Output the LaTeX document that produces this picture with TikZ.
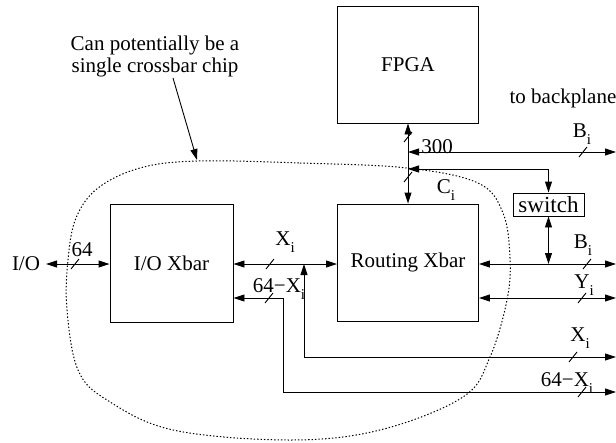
\documentclass[tikz,border=0pt]{standalone}
\usepackage{fontspec}
\setmainfont{Liberation Serif}
\usetikzlibrary{arrows.meta}
\newcommand\isub[1]{\raisebox{-0.35em}{\fontsize{15}{15}\selectfont #1}}
\tikzset{
  blk/.style={draw, line width=0.9pt, inner sep=0pt},
  ln/.style={line width=0.9pt},
  dbl/.style={ln, {Triangle[length=11pt,width=7pt]}-{Triangle[length=11pt,width=7pt]}},
  arr/.style={ln, -{Triangle[length=11pt,width=7pt]}},
  lbl/.style={inner sep=0pt},
  tk/.pic={\draw[line width=0.9pt] (-4pt,-5pt) -- (4pt,5pt);},
  chip/.style={line width=1pt, dash pattern=on 1.4pt off 2pt}
}
\begin{document}
\begin{tikzpicture}[x=1pt,y=-1pt,font=\fontsize{21}{23}\selectfont]
\useasboundingbox (0,0) rectangle (616,442);
% blocks
\node[blk, minimum width=141pt, minimum height=117pt] (fpga) at (408,64.5) {FPGA};
\node[blk, minimum width=141pt, minimum height=117pt] (rx) at (408,262.5) {Routing Xbar};
\node[blk, minimum width=123pt, minimum height=118pt] (iox) at (171.5,263) {I/O Xbar};
\node[blk, minimum width=71pt, minimum height=23pt] (sw) at (548.5,204.5) {\raisebox{-3pt}{\fontsize{23}{23}\selectfont switch}};
% labels
\node[lbl] (io) at (26,264) {I/O};
\node[lbl] (l64) at (82,250) {64};
\node[lbl] (lxa) at (285,242) {X\isub{i}};
\node[lbl] (lmxa) at (279,289) {64−X\isub{i}};
\node[lbl] (l300) at (437,147) {300};
\node[lbl] (lci) at (446,190) {C\isub{i}};
\node[lbl] (lbt) at (582,134) {B\isub{i}};
\node[lbl] (lbb) at (583,245) {B\isub{i}};
\node[lbl] (lyi) at (584,285) {Y\isub{i}};
\node[lbl] (lxb) at (580,338) {X\isub{i}};
\node[lbl] (lmxb) at (567,383) {64−X\isub{i}};
\node[lbl] (bp) at (563,98) {to backplane};
\node[lbl, align=center] (note) at (155,56) {Can potentially be a\\[-1pt] single crossbar chip};
% free ends
\coordinate (ioend) at (46,264);
\coordinate (xa) at (304,264);
\coordinate (xend) at (616,357);
\coordinate (mc) at (283,298);
\coordinate (mend) at (616,392);
\coordinate (bend) at (616,264);
\coordinate (yend) at (616,298);
\coordinate (tend) at (616,152);
\coordinate (cb) at (408,169);
\coordinate (ctop) at (197,160);
% connectors
\draw[dbl] (ioend) -- (ioend -| iox.west);
\draw[dbl] (xa -| iox.east) -- (xa -| rx.west);
\draw[dbl] (xend) -| (xa);
\draw[dbl] (mc -| iox.east) -- (mc) |- (mend);
\draw[dbl] (bend -| rx.east) -- (bend);
\draw[dbl] (yend -| rx.east) -- (yend);
\draw[dbl] (sw.south) -- (sw.south |- bend);
\draw[dbl] (fpga.south) -- (rx.north);
\draw[dbl] (tend -| fpga.south) -- (tend);
\draw[dbl] (cb) -| (sw.north);
\draw[arr] (173,78) -- (ctop);
% bus width ticks
\pic at (75,264) {tk};
\pic at (270,264) {tk};
\pic at (269,298) {tk};
\pic at (408,137) {tk};
\pic at (408,177) {tk};
\pic at (583,152) {tk};
\pic at (587,264) {tk};
\pic at (582,298) {tk};
\pic at (573,357) {tk};
\pic at (582,392) {tk};
% chip outline
\draw[chip] plot[smooth cycle, tension=0.6] coordinates {
  (197,161) (300,163) (407,168) (478,183) (503,213) (510,258) (507,300)
  (490,357) (463,397) (380,430) (290,440) (173,430) (107,400) (78,370)
  (67,310) (68,260) (76,218) (98,188) (140,168)};
\end{tikzpicture}
\end{document}
